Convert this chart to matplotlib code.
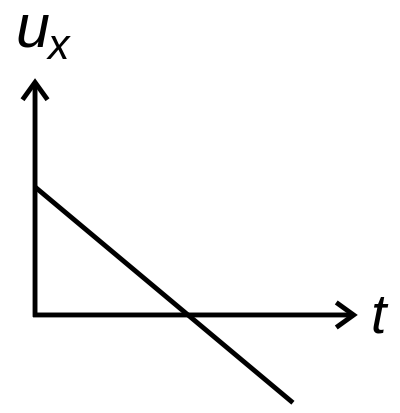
import matplotlib
matplotlib.use("Agg")
import matplotlib.pyplot as plt

# data: velocity decreasing linearly with time
t_values = [0.0, 1.686]
u_values = [1.0, -0.686]
axis_labels = ["u", "x", "t"]

fig = plt.figure(figsize=(4.0, 4.13), dpi=100)
ax = fig.add_axes([0, 0, 1, 1])
ax.set_xlim(-0.229, 2.386)
ax.set_ylim(-0.766, 2.461)
ax.axis("off")

lw = 3.5
arrow = dict(arrowstyle="->,head_length=1.25,head_width=0.9", lw=lw, color="black",
             shrinkA=0, shrinkB=0, capstyle="butt", joinstyle="miter")
# y-axis
ax.annotate("", xy=(0, 1.85), xytext=(0, -0.015), arrowprops=arrow)
# x-axis
ax.annotate("", xy=(2.11, 0), xytext=(-0.013, 0), arrowprops=arrow)

ax.plot(t_values, u_values, color="black", lw=lw, solid_capstyle="butt")

fam = ["Liberation Sans", "DejaVu Sans"]
ax.text(-0.125, 2.1, axis_labels[0], fontsize=44, style="italic", family=fam,
        ha="left", va="baseline")
ax.text(0.085, 2.0, axis_labels[1], fontsize=31, style="italic", family=fam,
        ha="left", va="baseline")
ax.text(2.195, -0.14, axis_labels[2], fontsize=40, style="italic", family=fam,
        ha="left", va="baseline")

fig.savefig("out.png", dpi=100, facecolor="white")
